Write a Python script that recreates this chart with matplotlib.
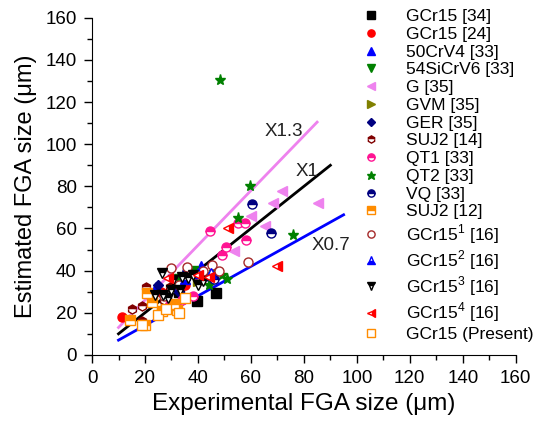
import numpy as np
import matplotlib
matplotlib.use('Agg')
import matplotlib.pyplot as plt
from matplotlib.ticker import MultipleLocator

plt.rcParams['font.family'] = ['Liberation Sans', 'DejaVu Sans']
plt.rcParams['mathtext.fontset'] = 'custom'
plt.rcParams['mathtext.rm'] = 'Liberation Sans'

# data (x = experimental, y = estimated), um
gcr15_34 = [(46.8, 29.6), (39.5, 25.6), (33, 30), (28, 25)]
gcr15_24 = [(11.2, 17.9), (26, 30), (35, 33)]
crv4_50 = [(24, 32), (41, 42), (35, 38), (30, 33)]
sicrv6_54 = [(38, 40), (42, 37), (46, 38), (33, 36)]
g_35 = [(53.5, 49.5), (60, 66), (65.3, 61), (68.4, 72), (71.7, 78), (85.4, 72)]
gvm_35 = [(36, 37), (40, 35)]
ger_35 = [(25, 33), (33, 30), (45, 36)]
suj2_14 = [(15, 22), (19, 23), (19, 16), (20.5, 32), (22, 29), (23, 28), (26, 21), (29.5, 32), (27, 26)]
qt1_33 = [(44.4, 58.7), (49, 47.5), (50.7, 51.4), (55, 62.7), (57.6, 62.7), (58, 54.6), (34, 26), (29.4, 24), (38, 28)]
qt2_33 = [(44, 33), (49, 38), (51, 36), (55, 65), (59.8, 80), (76, 57), (48.3, 130.6)]
vq_33 = [(60.5, 71.6), (67.5, 57.8), (46, 36), (36, 40)]
suj2_12 = [(14.3, 16.6), (20.6, 29.3), (22.5, 25.3), (26.3, 20.6), (32, 21.4), (31, 24), (20, 14)]
gcr15_1 = [(59, 44), (30, 41.2), (36, 41.6), (45.2, 42.7), (40, 38), (33, 33), (27, 28), (48, 40), (42, 40)]
gcr15_2 = [(40, 39), (35, 36), (45, 39)]
gcr15_3 = [(26.3, 38.8), (30.7, 35.6), (33.8, 37.2), (26.9, 28.5), (33.2, 30.9), (40.1, 33.2),
           (36.3, 36.4), (28.8, 26.9), (23.8, 28.5), (38, 38), (42, 35), (30, 31)]
gcr15_4 = [(51.4, 60.2), (69.9, 42.3), (40.1, 38), (28.8, 36.4), (44, 37)]
gcr15_present = [(19, 14), (25, 19), (33, 20), (28, 22), (35, 27)]

series = [
    (gcr15_34, 'GCr15 [34]', 's', 'black', 'full'),
    (gcr15_24, 'GCr15 [24]', 'o', 'red', 'full'),
    (crv4_50, '50CrV4 [33]', '^', 'blue', 'full'),
    (sicrv6_54, '54SiCrV6 [33]', 'v', 'green', 'full'),
    (g_35, 'G [35]', '<', 'violet', 'full'),
    (gvm_35, 'GVM [35]', '>', 'olive', 'full'),
    (ger_35, 'GER [35]', 'D', 'navy', 'full'),
    (suj2_14, 'SUJ2 [14]', 'h', 'maroon', 'top'),
    (qt1_33, 'QT1 [33]', 'o', 'deeppink', 'top'),
    (qt2_33, 'QT2 [33]', '*', 'green', 'full'),
    (vq_33, 'VQ [33]', 'o', 'navy', 'top'),
    (suj2_12, 'SUJ2 [12]', 's', 'darkorange', 'top'),
    (gcr15_1, 'GCr15$^1$ [16]', 'o', 'brown', 'none'),
    (gcr15_2, 'GCr15$^2$ [16]', '^', 'blue', 'bottom'),
    (gcr15_3, 'GCr15$^3$ [16]', 'v', 'black', 'top'),
    (gcr15_4, 'GCr15$^4$ [16]', '<', 'red', 'right'),
    (gcr15_present, 'GCr15 (Present)', 's', 'darkorange', 'none'),
]

# reference lines: slope, x-start, x-end, label, label position
slopes = [1.3, 1.0, 0.7]
x_starts = [10, 10, 10]
x_ends = [85, 90, 95]
line_colors = ['violet', 'black', 'blue']
line_labels = ['X1.3', 'X1', 'X0.7']
label_pos = [(65, 104), (77, 85), (83, 50)]

fig = plt.figure(figsize=(5.35, 4.25), dpi=100)
ax = fig.add_axes([0.172, 0.165, 0.792, 0.793])

for s, x0, x1, c in zip(slopes, x_starts, x_ends, line_colors):
    xs = np.array([x0, x1])
    ax.plot(xs, s * xs, color=c, lw=2, zorder=2)
for lab, (lx, ly) in zip(line_labels, label_pos):
    ax.text(lx, ly, lab, fontsize=13.5, color='#222222')

for pts, lab, mk, col, fs in series:
    pts = np.array(pts)
    ms = 8 if mk == '*' else 6.5
    if mk == 'D':
        ms = 5.5
    if fs == 'none':
        ax.plot(pts[:, 0], pts[:, 1], ls='none', marker=mk, ms=ms, mfc='white', mec=col,
                mew=1.0, label=lab, zorder=3)
    else:
        ax.plot(pts[:, 0], pts[:, 1], ls='none', marker=mk, ms=ms, color=col, fillstyle=fs,
                markerfacecoloralt='white', mec=col, mew=1.0, label=lab, zorder=3)

ax.set_xlim(0, 160)
ax.set_ylim(0, 160)
ax.xaxis.set_major_locator(MultipleLocator(20))
ax.xaxis.set_minor_locator(MultipleLocator(10))
ax.yaxis.set_major_locator(MultipleLocator(20))
ax.yaxis.set_minor_locator(MultipleLocator(10))
ax.tick_params(which='major', direction='out', length=6, width=1, labelsize=13.5, pad=5)
ax.tick_params(which='minor', direction='out', length=3.5, width=1)
ax.spines['top'].set_visible(False)
ax.spines['right'].set_visible(False)
ax.set_xlabel('Experimental FGA size (μm)', fontsize=17.5, labelpad=4)
ax.set_ylabel('Estimated FGA size (μm)', fontsize=17, labelpad=6)

leg = ax.legend(loc='upper left', bbox_to_anchor=(358 / 535, 1 - 9 / 425),
                bbox_transform=fig.transFigure, frameon=False, fontsize=12.5,
                handlelength=1.5, handletextpad=1.25, labelspacing=0.15, borderpad=0,
                borderaxespad=0, markerscale=0.8)

plt.savefig('out.png', dpi=100)
